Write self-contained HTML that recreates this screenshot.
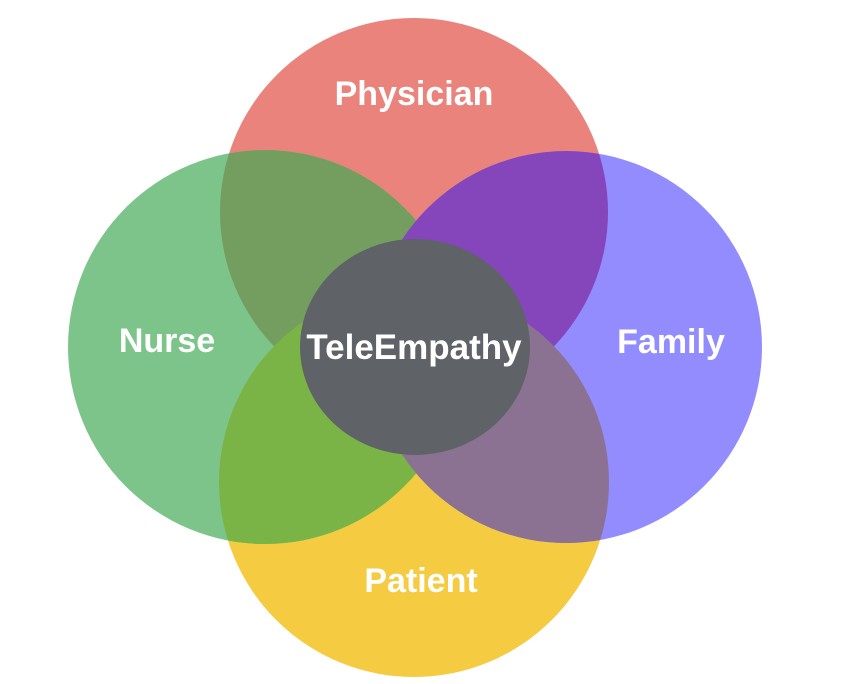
<!DOCTYPE html>
<html><head><meta charset="utf-8"><style>
html,body{margin:0;padding:0;background:#fff;}
svg{display:block}
text{font-family:"Liberation Sans",sans-serif;font-weight:bold;fill:#fff;text-anchor:middle;}
</style></head><body>
<svg width="845" height="684" viewBox="0 0 845 684">
<defs>
<clipPath id="cr"><circle cx="414" cy="212" r="194"/></clipPath>
<clipPath id="cy"><circle cx="414" cy="482" r="195"/></clipPath>
</defs>
<circle cx="414" cy="212" r="194" fill="#EA837B"/>
<circle cx="414" cy="482" r="195" fill="#F5CB42"/>
<circle cx="265" cy="347" r="197" fill="#7DC48A"/>
<circle cx="566" cy="347" r="196" fill="#928CFE"/>
<g clip-path="url(#cr)">
<circle cx="265" cy="347" r="197" fill="#739E60"/>
<circle cx="566" cy="347" r="196" fill="#8446BA"/>
</g>
<g clip-path="url(#cy)">
<circle cx="265" cy="347" r="197" fill="#7BB446"/>
<circle cx="566" cy="347" r="196" fill="#8B7293"/>
</g>
<ellipse cx="415" cy="347" rx="115" ry="108" fill="#5F6368"/>
<text x="414" y="105" font-size="34">Physician</text>
<text x="167" y="352" font-size="34">Nurse</text>
<text x="671" y="353" font-size="34">Family</text>
<text x="421" y="592" font-size="34">Patient</text>
<text x="414" y="359" font-size="35">TeleEmpathy</text>
</svg>
</body></html>
